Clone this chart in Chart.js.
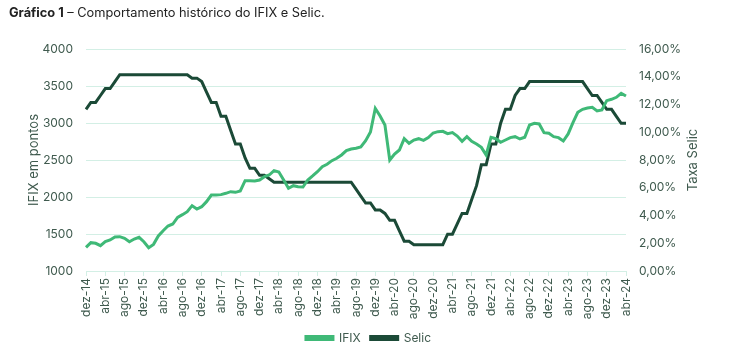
<!DOCTYPE html>
<html><head><meta charset="utf-8">
<script src="https://cdn.jsdelivr.net/npm/chart.js@4/dist/chart.umd.min.js"></script>
<style>
html,body{margin:0;padding:0;background:#fff;}
#wrap{position:relative;width:745px;height:355px;}
#title{position:absolute;left:9px;top:5px;font:12.8px Inter, sans-serif;color:#222;white-space:nowrap;}
canvas{position:absolute;left:0;top:0;}
</style></head><body>
<div id="wrap"><canvas id="c" width="745" height="355"></canvas><div id="title"><b>Gráfico 1</b> – Comportamento histórico do IFIX e Selic.</div></div>
<script>
// Month names (pt-BR) and categories dez-14 .. abr-24
const monthNames = ['jan','fev','mar','abr','mai','jun','jul','ago','set','out','nov','dez'];
const categories = [];
for (let k = 0; k < 113; k++) {
  const m = (11 + k) % 12;
  const y = 14 + Math.floor((11 + k) / 12);
  categories.push(monthNames[m] + '-' + y);
}

const ifix = [1320,1383,1374,1342,1396,1419,1460,1464,1441,1396,1432,1455,1396,1315,1360,1473,1545,1608,1635,1725,1761,1802,1883,1838,1869,1937,2027,2027,
2032,2050,2072,2063,2081,2221,2221,2216,2230,2275,2297,2356,2338,2230,2117,2153,2140,2135,2230,2284,2342,2410,2442,2491,2523,2568,2626,2649,
2658,2676,2761,2879,3198,3095,2973,2500,2581,2635,2788,2725,2770,2788,2766,2802,2865,2883,2888,2856,2870,2824,2752,2815,2752,2716,2671,2568,
2807,2788,2739,2770,2802,2815,2784,2807,2973,2996,2987,2870,2861,2815,2802,2757,2852,3005,3144,3185,3203,3212,3162,3176,3302,3320,3347,3401,3365];

const selic = [11.65,12.15,12.15,12.65,13.15,13.15,13.65,14.15,
14.15,14.15,14.15,14.15,14.15,14.15,14.15,14.15,14.15,14.15,14.15,14.15,14.15,14.15,
13.90,13.90,13.65,12.90,12.15,12.15,11.15,11.15,10.15,9.15,9.15,8.15,7.40,7.40,6.90,6.90,6.65,6.40,
6.40,6.40,6.40,6.40,6.40,6.40,6.40,6.40,6.40,6.40,6.40,6.40,6.40,6.40,6.40,6.40,
5.90,5.40,4.90,4.90,4.40,4.40,4.15,3.65,3.65,2.90,2.15,2.15,
1.90,1.90,1.90,1.90,1.90,1.90,1.90,
2.65,2.65,3.40,4.15,4.15,5.15,6.15,7.65,7.65,9.15,9.15,10.65,11.65,11.65,12.65,13.15,13.15,
13.65,13.65,13.65,13.65,13.65,13.65,13.65,13.65,13.65,13.65,13.65,13.65,
13.15,12.65,12.65,12.15,11.65,11.65,11.15,10.65,10.65];

const ifixTicks = [1000,1500,2000,2500,3000,3500,4000];
const selicTicks = [0,2,4,6,8,10,12,14,16];

const txt = '#3f5a4e';
const gridC = '#d3efe5';
const cIfix = '#3fb977';
const cSelic = '#1b4a37';
Chart.defaults.font.family = 'Inter, sans-serif';

const extras = {
  id: 'extras',
  afterLayout(chart) { chart.legend.left -= 4; chart.legend.right -= 4; },
  afterDraw(chart) {
    const ctx = chart.ctx;
    const a = chart.chartArea;
    ctx.save();
    ctx.translate(693, (a.top + a.bottom) / 2);
    ctx.rotate(-Math.PI / 2);
    ctx.fillStyle = txt;
    ctx.font = '13px Inter, sans-serif';
    ctx.textAlign = 'center';
    ctx.textBaseline = 'middle';
    ctx.fillText('Taxa Selic', 0, 0);
    ctx.restore();
  }
};

new Chart(document.getElementById('c'), {
  type: 'line',
  data: {
    labels: categories,
    datasets: [
      { label: 'IFIX', data: ifix, yAxisID: 'y', borderColor: cIfix, backgroundColor: cIfix, borderWidth: 3, pointRadius: 0, tension: 0 },
      { label: 'Selic', data: selic, yAxisID: 'y1', borderColor: cSelic, backgroundColor: cSelic, borderWidth: 3, pointRadius: 0, tension: 0 }
    ]
  },
  options: {
    responsive: false,
    animation: false,
    layout: { padding: { top: 49, left: 0, right: 0, bottom: 1 } },
    plugins: {
      legend: {
        position: 'bottom',
        labels: { boxWidth: 27, boxHeight: 3, padding: 10, color: txt, font: { size: 12 } }
      },
      tooltip: { enabled: false }
    },
    scales: {
      x: {
        type: 'category',
        offset: false,
        grid: { drawOnChartArea: false, drawTicks: true, tickLength: 5, color: gridC },
        border: { color: gridC },
        ticks: {
          autoSkip: false, maxRotation: 90, minRotation: 90, padding: 2, color: txt, font: { size: 12 },
          callback: (v, i) => (i % 4 === 0 ? categories[i] : null)
        },
        afterFit: s => { s.height = 51; }
      },
      y: {
        position: 'left', min: 1000, max: 4000,
        afterBuildTicks: s => { s.ticks = ifixTicks.map(v => ({ value: v })); },
        grid: { color: gridC, drawTicks: false },
        border: { display: false },
        ticks: { padding: 13, color: txt, font: { size: 12 }, callback: v => String(v) },
        title: { display: true, text: 'IFIX em pontos', color: txt, font: { size: 13 }, padding: { top: 26, bottom: 0 } },
        afterFit: s => { s.width = 86; }
      },
      y1: {
        position: 'right', min: 0, max: 16,
        afterBuildTicks: s => { s.ticks = selicTicks.map(v => ({ value: v })); },
        grid: { display: false, drawTicks: false },
        border: { display: false },
        ticks: { padding: 13, color: txt, font: { size: 12 }, callback: v => v.toFixed(2).replace('.', ',') + '%' },
        title: { display: false },
        afterFit: s => { s.width = 119; }
      }
    }
  },
  plugins: [extras]
});
</script>
</body></html>
